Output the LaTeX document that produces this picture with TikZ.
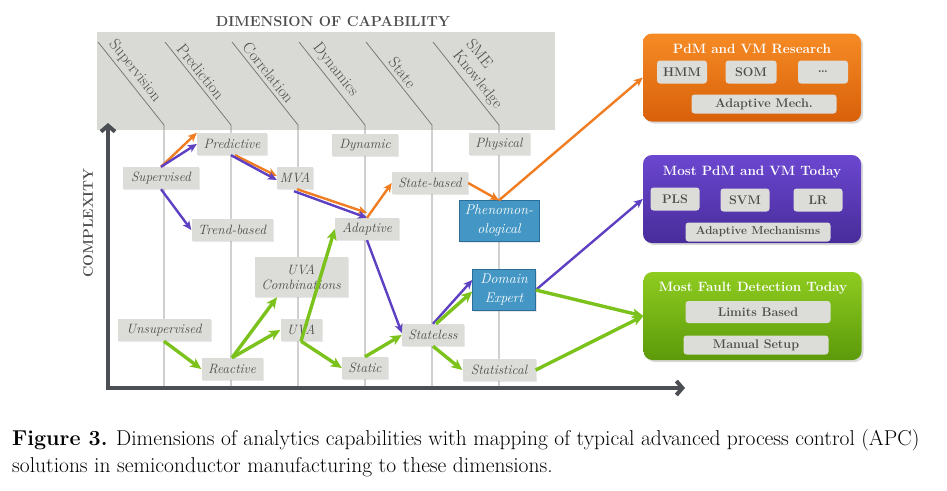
\documentclass[tikz,border=0pt]{standalone}
\usetikzlibrary{arrows.meta,shadows}
\definecolor{bandgray}{HTML}{D9D9D5}
\definecolor{boxgray}{HTML}{DCDCD8}
\definecolor{inkgray}{HTML}{4D4D4D}
\definecolor{axisgray}{HTML}{4B4E53}
\definecolor{gridgray}{HTML}{7A7A7A}
\definecolor{apcorange}{HTML}{F07D22}
\definecolor{apcpurple}{HTML}{5E40C2}
\definecolor{apcgreen}{HTML}{7CC21C}
\definecolor{apcblue}{HTML}{4497C4}
\definecolor{apcbluedark}{HTML}{2A6D98}
\definecolor{orangetop}{HTML}{F68B24}
\definecolor{orangebot}{HTML}{D8600A}
\definecolor{purpletop}{HTML}{6B47D0}
\definecolor{purplebot}{HTML}{482C9A}
\definecolor{greentop}{HTML}{8FCC20}
\definecolor{greenbot}{HTML}{5C9A0A}
\begin{document}
\begin{tikzpicture}[x=1pt,y=-1pt,
  lbl/.style={fill=boxgray,text=inkgray,inner sep=1pt,minimum height=22pt,
    font=\fontsize{13.5}{15}\selectfont\itshape,
    drop shadow={opacity=0.18,shadow xshift=1pt,shadow yshift=-1pt}},
  blu/.style={lbl,fill=apcblue,draw=apcbluedark,text=white,align=center,
    minimum height=41pt,font=\fontsize{14}{19}\selectfont\itshape},
  chip/.style={fill=boxgray,rounded corners=3pt,text=inkgray,inner sep=1pt,
    minimum height=22pt,font=\fontsize{12.5}{14}\selectfont\bfseries},
  panel/.style={rounded corners=9pt,minimum width=218pt,minimum height=88pt,
    drop shadow={opacity=0.3,shadow xshift=2pt,shadow yshift=-2pt}},
  ttl/.style={text=white,font=\fontsize{13.5}{15}\selectfont\bfseries},
  flow/.style={line width=2.4pt,-{Stealth[length=9pt,width=8pt,inset=2.5pt]}},
  wideflow/.style={line width=3.4pt,-{Stealth[length=11pt,width=10pt,inset=3pt]}}]
\useasboundingbox (0,0) rectangle (947,490);
\fill[bandgray] (97,32) rectangle (555,130);
\node[text=inkgray,font=\fontsize{14.5}{16}\selectfont\bfseries] (dimtitle) at (333,22) {DIMENSION OF CAPABILITY};
\foreach \x/\p/\dim in {164/.43/Supervision,231/.43/Prediction,298/.44/Correlation,365/.42/Dynamics,432/.44/State,499/.54/{SME\\Knowledge}}
  \draw[gridgray,line width=0.8pt] ({\x-66},42) -- node[pos=\p,sloped,anchor=south,align=left,text=inkgray,font=\fontsize{16}{17}\selectfont] {\dim} (\x,125) -- (\x,388);
\coordinate (ytip) at (108,123);
\coordinate (xtip) at (685,388);
\draw[axisgray,line width=4pt,{Straight Barb[length=6pt,width=14pt]}-{Straight Barb[length=6pt,width=14pt]}] (ytip) |- (xtip);
\node[rotate=90,text=inkgray,font=\fontsize{14}{16}\selectfont\bfseries] (complexity) at (88,223) {COMPLEXITY};

\node[lbl,minimum width=70] (pred) at (232,144) {Predictive};
\node[lbl,minimum width=76] (sup) at (161,178) {Supervised};
\node[lbl,minimum width=36] (mva) at (295,178) {MVA};
\node[lbl,minimum width=81] (trend) at (232,230) {Trend-based};
\node[lbl,minimum width=66] (dyn) at (365,145) {Dynamic};
\node[lbl,minimum width=64] (adapt) at (367,229) {Adaptive};
\node[lbl,minimum width=76] (stateb) at (430,183) {State-based};
\node[lbl,minimum width=61] (phys) at (499,144) {Physical};
\node[blu,minimum width=80] (phen) at (499,221) {Phenomon-\\ological};
\node[lbl,minimum width=93,minimum height=40,align=center] (uvac) at (301,277) {UVA\\Combinations};
\node[lbl,minimum width=93] (unsup) at (164,330) {Unsupervised};
\node[lbl,minimum width=41] (uva) at (301,330) {UVA};
\node[lbl,minimum width=61] (react) at (232,369) {Reactive};
\node[lbl,minimum width=46] (static) at (365,368) {Static};
\node[lbl,minimum width=62] (stateless) at (433,335) {Stateless};
\node[blu,minimum width=63] (domain) at (504,290) {Domain\\Expert};
\node[lbl,minimum width=73] (stat) at (499,370) {Statistical};

\node[panel,top color=orangetop,bottom color=orangebot] (research) at (752,77.5) {};
\node[ttl] (researchttl) at (752,49) {PdM and VM Research};
\node[chip,minimum width=50,minimum height=23] (hmm) at (682,72) {HMM};
\node[chip,minimum width=51,minimum height=23] (som) at (751,72) {SOM};
\node[chip,minimum width=50,minimum height=23] (more) at (823,72) {\dots};
\node[chip,minimum width=145,minimum height=19] (adaptmech) at (764,104) {Adaptive Mech.};

\node[panel,top color=purpletop,bottom color=purplebot] (today) at (752,199) {};
\node[ttl] (todayttl) at (752,172) {Most PdM and VM Today};
\node[chip,minimum width=49,minimum height=23] (pls) at (675,199) {PLS};
\node[chip,minimum width=49,minimum height=23] (svm) at (745,200) {SVM};
\node[chip,minimum width=49,minimum height=23] (lr) at (818,200) {LR};
\node[chip,minimum width=145,minimum height=19,font=\fontsize{11.5}{13}\selectfont\bfseries] (adaptmechs) at (758,232) {Adaptive Mechanisms};

\node[panel,top color=greentop,bottom color=greenbot] (fault) at (752.5,316) {};
\node[ttl] (faultttl) at (753,288) {Most Fault Detection Today};
\node[chip,minimum width=145,minimum height=22] (limits) at (758,312) {Limits Based};
\node[chip,minimum width=145,minimum height=19] (manual) at (756,345) {Manual Setup};

\draw[flow,apcorange] (sup.north) -- (pred.north west);
\draw[flow,apcpurple] (sup.north) -- (pred.west);
\draw[flow,apcorange] ([xshift=3pt]pred.south) -- ([yshift=2pt]mva.west);
\draw[flow,apcpurple] ([xshift=-1pt]pred.south) -- ([yshift=-2pt]mva.west);
\draw[flow,apcorange] ([xshift=2pt]mva.south) -- ([yshift=5pt]adapt.north);
\draw[flow,apcpurple] ([xshift=-1pt,yshift=-2pt]mva.south) -- (adapt.north);
\draw[flow,apcorange] (adapt.north) -- (stateb.west);
\draw[flow,apcorange] (stateb.east) -- (phen.north);
\draw[flow,apcorange] (phen.north) -- (research.west);
\draw[flow,apcpurple] (sup.south) -- (trend.west);
\draw[flow,apcpurple] (adapt.south) -- ([yshift=2pt]stateless.west);
\draw[flow,apcpurple] (stateless.north) -- ([yshift=10pt]domain.west);
\draw[flow,apcpurple] (domain.east) -- (today.west);

\draw[wideflow,apcgreen] (unsup.south) -- (react.west);
\draw[wideflow,apcgreen] (react.north) -- ([xshift=-24pt]uvac.south);
\draw[wideflow,apcgreen] (react.north) -- (uva.west);
\draw[wideflow,apcgreen] (uva.south) -- (adapt.west);
\draw[wideflow,apcgreen] (uva.south) -- (static.west);
\draw[wideflow,apcgreen] (static.north) -- (stateless.west);
\draw[wideflow,apcgreen] ([xshift=3pt]stateless.north) -- ([yshift=-1.5pt]domain.west);
\draw[wideflow,apcgreen] (stateless.south) -- (stat.west);
\draw[wideflow,apcgreen] (domain.east) -- (fault.west);
\draw[wideflow,apcgreen] (stat.east) -- (fault.west);

\node[anchor=north west,inner sep=0pt,align=left,text=black,font=\fontsize{21.5}{27.5}\selectfont] (caption) at (12,429) {\textbf{Figure 3.} Dimensions of analytics capabilities with mapping of typical advanced process control (APC)\\solutions in semiconductor manufacturing to these dimensions.};
\end{tikzpicture}
\end{document}
